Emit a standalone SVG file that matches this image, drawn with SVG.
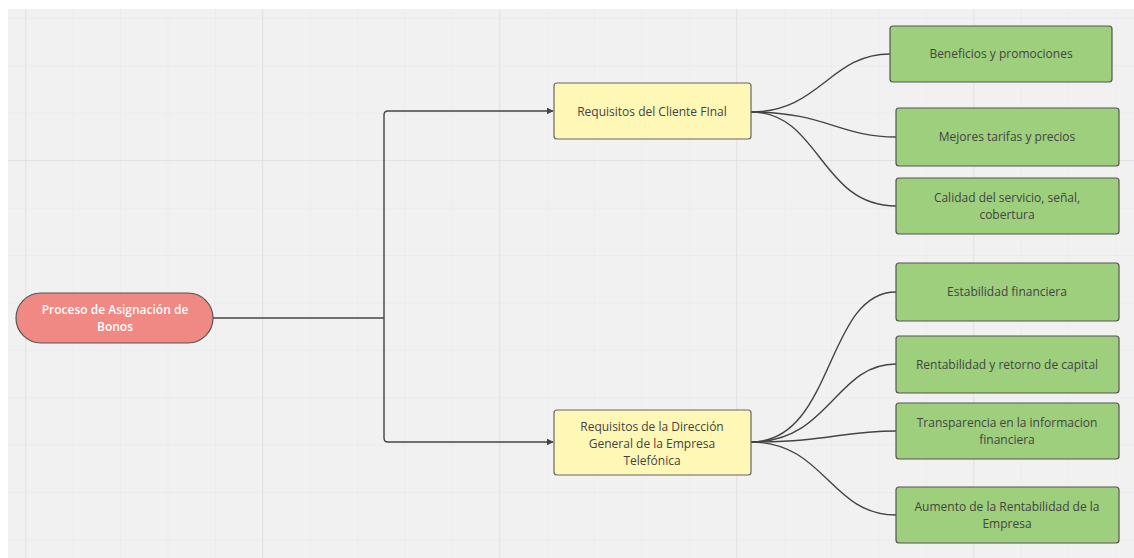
<svg xmlns="http://www.w3.org/2000/svg" width="1134" height="558" viewBox="0 0 1134 558">
  <defs>
    <pattern id="grid-minor" x="25.3" y="18" width="47.4" height="47.4" patternUnits="userSpaceOnUse">
      <path d="M0,0 V47.4 M0,0 H47.4" fill="none" stroke="#e8e8e8" stroke-width="1"/>
    </pattern>
    <pattern id="grid-major" x="25.3" y="160" width="237" height="237" patternUnits="userSpaceOnUse">
      <path d="M0,0 V237 M0,0 H237" fill="none" stroke="#dedede" stroke-width="1.5"/>
    </pattern>
    <marker id="arrow" viewBox="0 0 10 10" refX="9" refY="5" markerWidth="7" markerHeight="7" orient="auto" markerUnits="userSpaceOnUse">
      <path d="M0,0 L10,5 L0,10 Z" fill="#444"/>
    </marker>
    <style>
      .label { font-family: "Open Sans", "Liberation Sans", sans-serif; font-size: 12px; fill: #444444; text-anchor: middle; }
      .root-label { font-family: "Open Sans", "Liberation Sans", sans-serif; font-size: 12px; font-weight: 600; fill: #ffffff; text-anchor: middle; }
      .root { fill: #f08883; stroke: #555; stroke-width: 1.2; }
      .topic { fill: #fff7b5; stroke: #666; stroke-width: 1.2; }
      .leaf { fill: #9ecf7c; stroke: #555; stroke-width: 1.2; }
      .edge { fill: none; stroke: #444; stroke-width: 1.4; }
    </style>
  </defs>

  <!-- canvas -->
  <rect x="0" y="0" width="1134" height="558" fill="#ffffff"/>
  <rect x="8" y="9" width="1126" height="549" fill="#f1f1f1"/>
  <rect x="8" y="9" width="1126" height="549" fill="url(#grid-minor)"/>
  <rect x="8" y="9" width="1126" height="549" fill="url(#grid-major)"/>

  <!-- connectors -->
  <g id="connectors">
    <path class="edge" d="M213,318 H384"/>
    <path class="edge" d="M384,318 V115 Q384,111 388,111 H553" marker-end="url(#arrow)"/>
    <path class="edge" d="M384,318 V438 Q384,442 388,442 H553" marker-end="url(#arrow)"/>

    <path class="edge" d="M751,112 C820,112 830,54 890,54"/>
    <path class="edge" d="M751,112 C825,112 840,137 896,137"/>
    <path class="edge" d="M751,112 C820,112 820,206 896,206"/>

    <path class="edge" d="M751,442 C835,442 825,292 896,292"/>
    <path class="edge" d="M751,442 C830,442 835,364 896,364"/>
    <path class="edge" d="M751,442 C830,442 840,431 896,431"/>
    <path class="edge" d="M751,442 C825,442 830,515 896,515"/>
  </g>

  <!-- root -->
  <g id="node-root">
    <rect class="root" x="16" y="293" width="197" height="50" rx="25"/>
    <text class="root-label" x="115" y="314">Proceso de Asignación de</text>
    <text class="root-label" x="115" y="331">Bonos</text>
  </g>

  <!-- second level -->
  <g id="node-cliente">
    <rect class="topic" x="554" y="83" width="197" height="56" rx="3"/>
    <text class="label" x="652" y="116">Requisitos del Cliente FInal</text>
  </g>
  <g id="node-direccion">
    <rect class="topic" x="554" y="410" width="197" height="65" rx="3"/>
    <text class="label" x="652" y="431">Requisitos de la Dirección</text>
    <text class="label" x="652" y="448">General de la Empresa</text>
    <text class="label" x="652" y="465">Telefónica</text>
  </g>

  <!-- leaves: cliente -->
  <g id="node-beneficios">
    <rect class="leaf" x="890" y="26" width="222" height="56" rx="3"/>
    <text class="label" x="1001" y="58">Beneficios y promociones</text>
  </g>
  <g id="node-tarifas">
    <rect class="leaf" x="896" y="108" width="223" height="58" rx="3"/>
    <text class="label" x="1007" y="141">Mejores tarifas y precios</text>
  </g>
  <g id="node-calidad">
    <rect class="leaf" x="896" y="178" width="223" height="56" rx="3"/>
    <text class="label" x="1007" y="202">Calidad del servicio, señal,</text>
    <text class="label" x="1007" y="219">cobertura</text>
  </g>

  <!-- leaves: direccion -->
  <g id="node-estabilidad">
    <rect class="leaf" x="896" y="263" width="223" height="58" rx="3"/>
    <text class="label" x="1007" y="296">Estabilidad financiera</text>
  </g>
  <g id="node-rentabilidad">
    <rect class="leaf" x="896" y="336" width="223" height="57" rx="3"/>
    <text class="label" x="1007" y="369">Rentabilidad y retorno de capital</text>
  </g>
  <g id="node-transparencia">
    <rect class="leaf" x="896" y="403" width="223" height="56" rx="3"/>
    <text class="label" x="1007" y="427">Transparencia en la informacion</text>
    <text class="label" x="1007" y="444">financiera</text>
  </g>
  <g id="node-aumento">
    <rect class="leaf" x="896" y="487" width="223" height="56" rx="3"/>
    <text class="label" x="1007" y="511">Aumento de la Rentabilidad de la</text>
    <text class="label" x="1007" y="528">Empresa</text>
  </g>
</svg>
